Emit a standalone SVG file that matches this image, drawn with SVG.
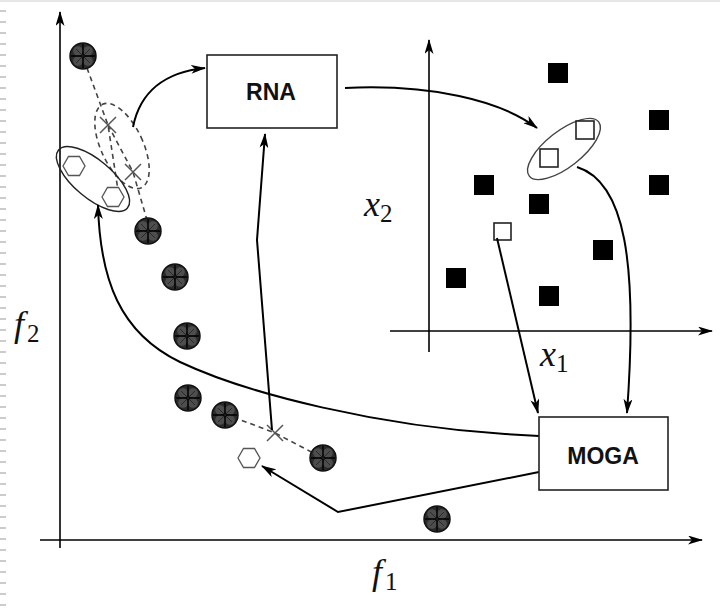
<svg xmlns="http://www.w3.org/2000/svg" width="720" height="615" viewBox="0 0 720 615">
<style>
.ax{stroke:#000;stroke-width:1.6;fill:none}
.cn{stroke:#000;stroke-width:2;fill:none}
.box{fill:#fff;stroke:#222;stroke-width:1.6}
.lbl{font-family:"Liberation Sans",Arial,sans-serif;font-weight:bold;font-size:23px;fill:#111;text-anchor:middle}
.mth{font-family:"Liberation Serif","DejaVu Serif",serif;fill:#111;font-size:36px}
.mth .it{font-style:italic}
.mth .sb{font-size:25px}
.dash{stroke:#444;stroke-width:1.6;stroke-dasharray:5,4;fill:none}
.hex{fill:#fff;stroke:#555;stroke-width:1.3}
.xm{stroke:#555;stroke-width:1.5}
.bs{fill:#000}
.os{fill:#fff;stroke:#222;stroke-width:1.6}
</style>
<defs>
<marker id="ah" viewBox="0 0 15 9" refX="14" refY="4.5" markerWidth="15" markerHeight="9" markerUnits="userSpaceOnUse" orient="auto">
<path d="M0,0 L15,4.5 L0,9 L4,4.5 z" fill="#000"/>
</marker>
<marker id="ahs" viewBox="0 0 15 9" refX="14" refY="4.5" markerWidth="15" markerHeight="9" markerUnits="userSpaceOnUse" orient="auto">
<path d="M0,0 L15,4.5 L0,9 L4,4.5 z" fill="#000"/>
</marker>
<g id="dot">
<circle r="13" fill="#2a2a2a" stroke="#111" stroke-width="1.5"/>
<circle cx="-5" cy="-5" r="4.8" fill="#4d4d4d"/>
<circle cx="5" cy="-5" r="4.8" fill="#4d4d4d"/>
<circle cx="-5" cy="5" r="4.8" fill="#4d4d4d"/>
<circle cx="5" cy="5" r="4.8" fill="#4d4d4d"/>
<path d="M-12,0 H12 M0,-12 V12" stroke="#000" stroke-width="1.4"/>
<path d="M-7,-7 L7,7 M7,-7 L-7,7" stroke="#222" stroke-width="0.8"/>
</g>
<path id="hx" d="M-11,0 L-5.5,-9.5 L5.5,-9.5 L11,0 L5.5,9.5 L-5.5,9.5 Z"/>
<path id="xx" d="M-8,-8 L8,8 M8,-8 L-8,8"/>
</defs>

<rect x="0" y="0" width="720" height="2" fill="#e6e6e6"/>
<g id="edge-ticks" stroke="#ccc" stroke-width="2">
<path d="M0,11 H6 M0,22 H6 M0,33 H6 M0,44 H6 M0,55 H6 M0,66 H6 M0,77 H6 M0,88 H6 M0,99 H6 M0,110 H6 M0,121 H6 M0,132 H6 M0,143 H6 M0,154 H6 M0,165 H6 M0,176 H6 M0,187 H6 M0,198 H6 M0,209 H6 M0,220 H6 M0,231 H6 M0,242 H6 M0,253 H6 M0,264 H6 M0,275 H6 M0,286 H6 M0,297 H6 M0,308 H6 M0,319 H6 M0,330 H6 M0,341 H6 M0,352 H6 M0,363 H6 M0,374 H6 M0,385 H6 M0,396 H6 M0,407 H6 M0,418 H6 M0,429 H6 M0,440 H6 M0,451 H6 M0,462 H6 M0,473 H6 M0,484 H6 M0,495 H6 M0,506 H6 M0,517 H6 M0,528 H6 M0,539 H6 M0,550 H6 M0,561 H6 M0,572 H6 M0,583 H6 M0,594 H6 M0,605 H6"/>
</g>

<g id="axes">
<path class="ax" d="M60,548 V12" marker-end="url(#ahs)"/>
<path class="ax" d="M40,540 H702" marker-end="url(#ahs)"/>
<path class="ax" d="M429,352 V40" marker-end="url(#ahs)"/>
<path class="ax" d="M390,331 H712" marker-end="url(#ahs)"/>
</g>

<g id="labels">
<text class="mth" x="14" y="336"><tspan class="it">f</tspan><tspan class="sb" dx="3" dy="6">2</tspan></text>
<text class="mth" x="372" y="584"><tspan class="it">f</tspan><tspan class="sb" dx="3" dy="6">1</tspan></text>
<text class="mth" x="364" y="216"><tspan class="it">x</tspan><tspan class="sb" dx="0" dy="6">2</tspan></text>
<text class="mth" x="540" y="366"><tspan class="it">x</tspan><tspan class="sb" dx="0" dy="6">1</tspan></text>
</g>

<g id="objective-space">
<path class="dash" d="M87,68 L108,125 L118,190"/>
<path class="dash" d="M108,125 L133,172 L147,220"/>
<path class="dash" d="M225,414 L275,433 L323,458"/>
<ellipse class="dash" cx="122" cy="146" rx="21" ry="46" transform="rotate(-25 122 146)" stroke-width="1.4"/>
<ellipse cx="93" cy="179" rx="45" ry="19" transform="rotate(40 93 179)" fill="none" stroke="#222" stroke-width="1.4"/>
<use href="#hx" class="hex" x="74" y="166"/>
<use href="#hx" class="hex" x="113" y="197"/>
<use href="#hx" class="hex" x="249" y="458"/>
<use href="#xx" class="xm" x="108" y="125"/>
<use href="#xx" class="xm" x="133" y="172"/>
<use href="#xx" class="xm" x="275" y="433"/>
<use href="#dot" x="83" y="56"/>
<use href="#dot" x="148" y="231"/>
<use href="#dot" x="175" y="277"/>
<use href="#dot" x="187" y="336"/>
<use href="#dot" x="188" y="398"/>
<use href="#dot" x="225" y="415"/>
<use href="#dot" x="323" y="458"/>
<use href="#dot" x="437" y="519"/>
</g>

<g id="decision-space">
<rect class="bs" x="548" y="63" width="20" height="20"/>
<rect class="bs" x="649" y="110" width="20" height="20"/>
<rect class="bs" x="649" y="175" width="20" height="20"/>
<rect class="bs" x="474" y="175" width="20" height="20"/>
<rect class="bs" x="529" y="194" width="20" height="20"/>
<rect class="bs" x="593" y="240" width="20" height="20"/>
<rect class="bs" x="446" y="268" width="20" height="20"/>
<rect class="bs" x="539" y="286" width="20" height="20"/>
<ellipse cx="564" cy="149" rx="44" ry="18" transform="rotate(-38 564 149)" fill="none" stroke="#444" stroke-width="1.4"/>
<rect class="os" x="576" y="121" width="18" height="18"/>
<rect class="os" x="540" y="149" width="18" height="18"/>
<rect class="os" x="494" y="223" width="17" height="17"/>
</g>

<g id="connectors">
<path class="cn" d="M133,127 C140,92 165,72 205,68" marker-end="url(#ah)"/>
<path class="cn" d="M345,88 C430,84 500,100 537,128" marker-end="url(#ah)"/>
<path class="cn" d="M577,167 C625,182 638,262 627,413" marker-end="url(#ah)"/>
<path class="cn" d="M497,238 L538,413" marker-end="url(#ah)"/>
<path class="cn" d="M539,436 L505,434 C380,426 250,395 180,362 C120,333 100,280 98,205" marker-end="url(#ah)"/>
<path class="cn" d="M539,472 L338,512 L262,466" marker-end="url(#ah)"/>
<path class="cn" d="M272,430 L257,240 L265,134" marker-end="url(#ah)"/>
</g>

<g id="node-rna">
<rect class="box" x="207" y="55" width="130" height="73"/>
<text class="lbl" x="271" y="100">RNA</text>
</g>
<g id="node-moga">
<rect class="box" x="539" y="417" width="129" height="73"/>
<text class="lbl" x="603" y="464">MOGA</text>
</g>
</svg>
